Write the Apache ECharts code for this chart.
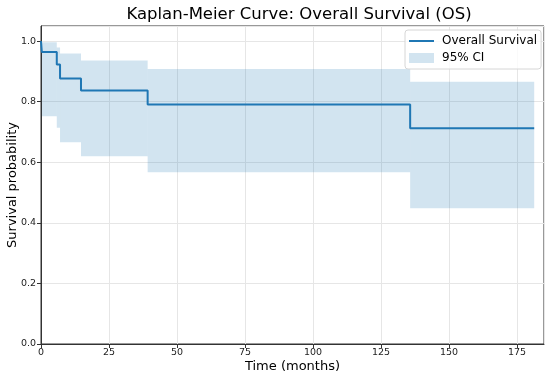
<!DOCTYPE html>
<html>
<head>
<meta charset="utf-8">
<script src="https://cdn.jsdelivr.net/npm/echarts@6/dist/echarts.min.js"></script>
<style>html,body{margin:0;padding:0;background:#fff;}#c{width:550px;height:376px;}</style>
</head>
<body>
<div id="c"></div>
<script>
// Step times (months) and values
var times    = [0,   0.3,   5.8,   7.0,   14.7,  39.2,  135.7, 181.3];
var survival = [1.0, 0.964, 0.923, 0.877, 0.837, 0.791, 0.712, 0.712];
var ciLower  = [1.0, 0.752, 0.714, 0.666, 0.620, 0.567, 0.448, 0.448];
var ciUpper  = [1.0, 0.996, 0.979, 0.959, 0.936, 0.908, 0.866, 0.866];
var xTicks = [0, 25, 50, 75, 100, 125, 150, 175];
var yTicks = [0.0, 0.2, 0.4, 0.6, 0.8, 1.0];

var lineData = times.map(function (t, i) { return [t, survival[i]]; });
var bandData = [];
for (var i = 0; i < times.length - 1; i++) {
  bandData.push([times[i], times[i + 1], ciLower[i], ciUpper[i]]);
}

var chart = echarts.init(document.getElementById('c'), null, {renderer: 'canvas'});
var font = 'DejaVu Sans';
chart.setOption({
  animation: false,
  title: {
    text: 'Kaplan-Meier Curve: Overall Survival (OS)',
    left: 294, top: 1, textAlign: 'center',
    textStyle: {fontFamily: font, fontSize: 16.5, fontWeight: 'normal', color: '#000'}
  },
  legend: {
    left: 405, top: 30,
    orient: 'vertical',
    backgroundColor: 'rgba(255,255,255,0.8)',
    borderColor: '#d6d6d6', borderWidth: 1, borderRadius: 3,
    padding: [5, 4, 5, 4],
    itemWidth: 25, itemHeight: 10, itemGap: 5,
    textStyle: {fontFamily: font, fontSize: 12, color: '#000', padding: [0, 0, 0, 3]},
    data: [
      {name: 'Overall Survival', icon: 'path://M0,0 L0.01,0 M0,4 L25,4 L25,6 L0,6 Z M0,10 L0.01,10',
       itemStyle: {color: '#1f77b4', borderWidth: 0}},
      {name: '95% CI', icon: 'rect', itemStyle: {color: 'rgba(31,119,180,0.2)', borderWidth: 0}}
    ]
  },
  grid: {
    left: 41, right: 6, top: 26, bottom: 32,
    outerBoundsMode: 'none', containLabel: false,
    show: true, borderColor: '#333', borderWidth: 1, backgroundColor: 'transparent'
  },
  xAxis: {
    type: 'value', min: 0, max: 184.9, interval: 25,
    name: 'Time (months)', nameLocation: 'middle', nameGap: 16, nameMoveOverlap: false,
    nameTextStyle: {fontFamily: font, fontSize: 13, color: '#000'},
    axisLine: {show: true, lineStyle: {color: '#333'}},
    axisTick: {show: true, length: 4, lineStyle: {color: '#333'}},
    axisLabel: {fontFamily: font, fontSize: 9.5, color: '#222', margin: 4, showMaxLabel: false,
      formatter: function (v) { return xTicks.indexOf(v) >= 0 ? String(v) : ''; }},
    splitLine: {show: true, lineStyle: {color: '#e6e6e6', width: 1}}
  },
  yAxis: {
    type: 'value', min: 0, max: 1.05, interval: 0.2,
    name: 'Survival probability', nameLocation: 'middle', nameGap: 22, nameMoveOverlap: false,
    nameTextStyle: {fontFamily: font, fontSize: 13, color: '#000'},
    axisLine: {show: true, lineStyle: {color: '#333'}},
    axisTick: {show: true, length: 4, lineStyle: {color: '#333'}},
    axisLabel: {fontFamily: font, fontSize: 9.5, color: '#222', margin: 5, showMaxLabel: false,
      formatter: function (v) {
        for (var k = 0; k < yTicks.length; k++) { if (Math.abs(yTicks[k] - v) < 1e-6) return yTicks[k].toFixed(1); }
        return '';
      }},
    splitLine: {show: true, lineStyle: {color: '#e6e6e6', width: 1}}
  },
  series: [
    {
      name: '95% CI',
      type: 'custom',
      z: 1,
      itemStyle: {color: 'rgba(31,119,180,0.2)'},
      renderItem: function (params, api) {
        var p0 = api.coord([api.value(0), api.value(3)]);
        var p1 = api.coord([api.value(1), api.value(2)]);
        return {
          type: 'rect',
          shape: {x: p0[0], y: p0[1], width: p1[0] - p0[0], height: p1[1] - p0[1]},
          style: {fill: 'rgba(31,119,180,0.2)'}
        };
      },
      encode: {x: [0, 1], y: [2, 3]},
      data: bandData
    },
    {
      name: 'Overall Survival',
      type: 'line',
      step: 'end',
      z: 3,
      symbol: 'none',
      itemStyle: {color: '#1f77b4'},
      lineStyle: {color: '#1f77b4', width: 2},
      data: lineData
    }
  ]
});
</script>
</body>
</html>
